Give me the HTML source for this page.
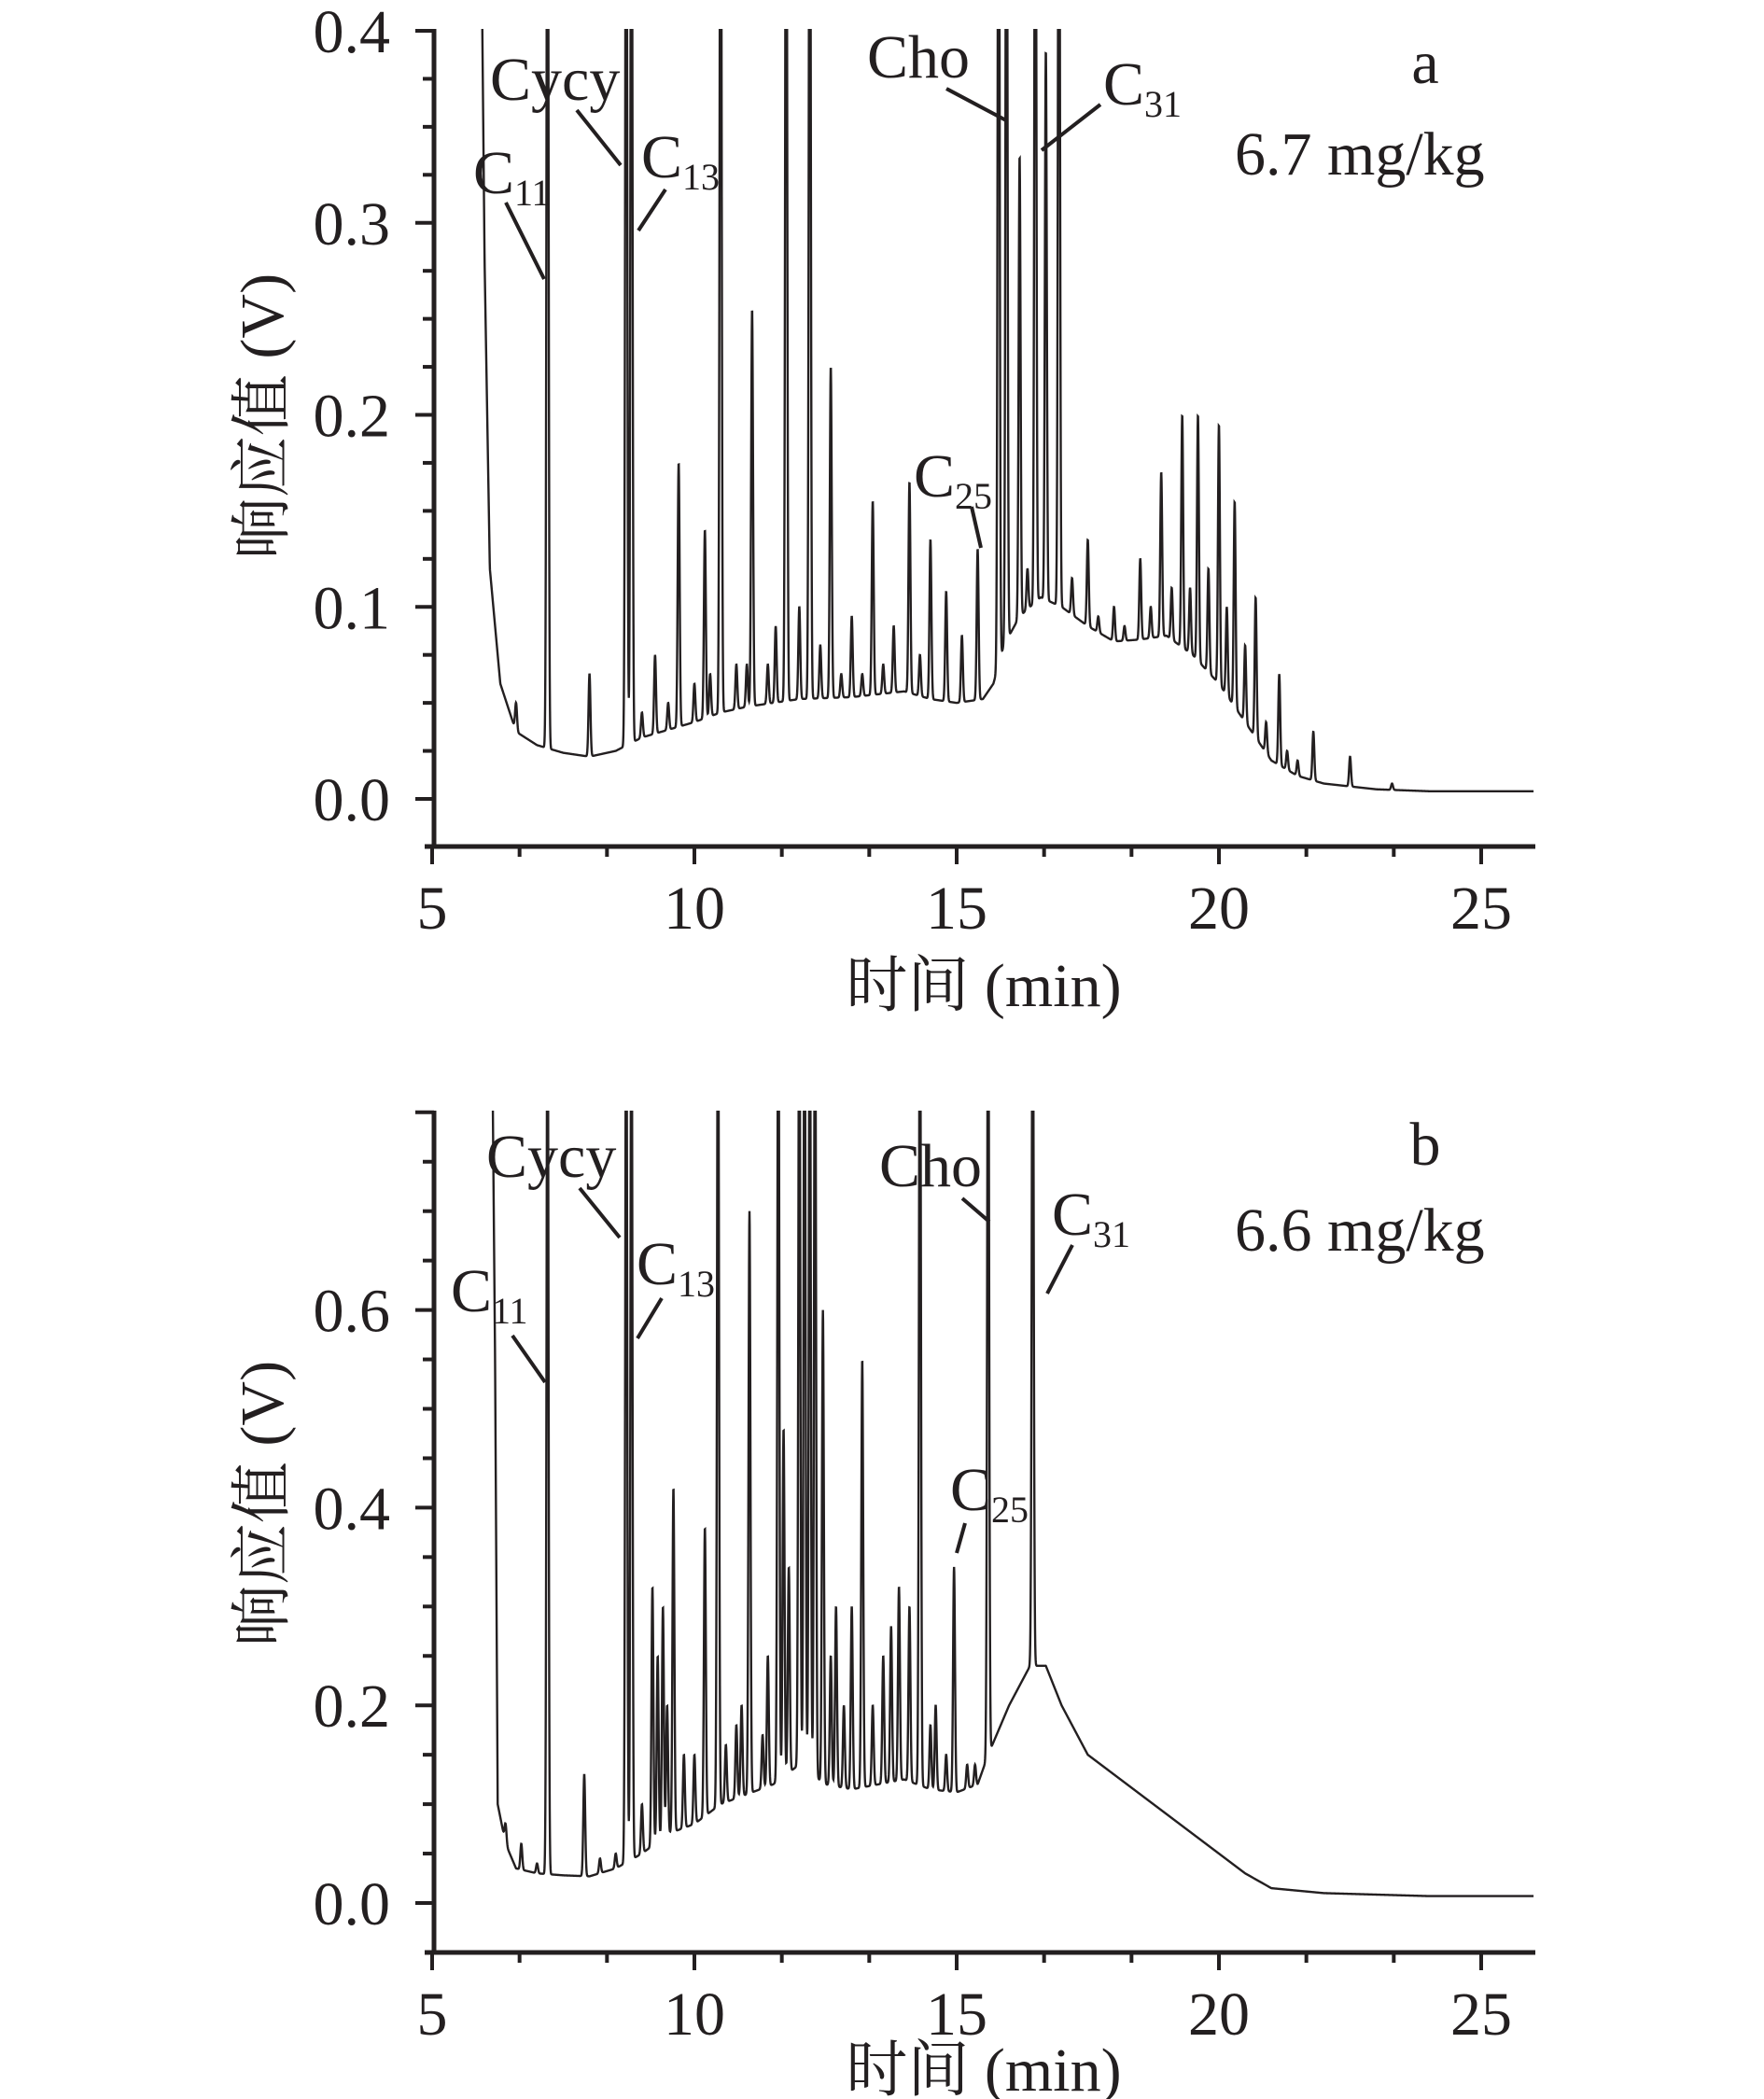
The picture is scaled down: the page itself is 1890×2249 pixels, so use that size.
<!DOCTYPE html>
<html><head><meta charset="utf-8">
<style>
html,body{margin:0;padding:0;background:#fff;}
svg{display:block;}
text{font-family:"Liberation Serif","Noto Serif CJK SC",serif;fill:#231f20;}
</style></head>
<body>
<svg id="chart" width="1890" height="2249" viewBox="0 0 1890 2249" xmlns="http://www.w3.org/2000/svg">
<defs>
<clipPath id="clipA"><rect x="465" y="31" width="1180" height="874"/></clipPath>
<clipPath id="clipB"><rect x="465" y="1190" width="1180" height="900"/></clipPath>
</defs>
<g id="panelA"></g>
<g id="panelB"></g>
</svg>
<script>
// ---- data: panel a ----
const baseTA=[5.95,6.0,6.1,6.3,6.6,7.0,7.5,8.0,8.5,9.0,9.5,10.0,10.5,11,12,13,14,14.5,15,15.5,15.7,15.9,16.2,16.6,17,17.5,18,18.5,19,19.5,20,20.5,21,21.5,22,23,24,26];
const baseVA=[0.42,0.28,0.12,0.06,0.035,0.028,0.024,0.022,0.025,0.032,0.036,0.04,0.045,0.048,0.052,0.053,0.056,0.052,0.05,0.052,0.06,0.08,0.095,0.105,0.1,0.09,0.082,0.083,0.085,0.075,0.06,0.04,0.02,0.012,0.008,0.005,0.004,0.004];
const peakTA=[6.6,7.2,8.0,8.7,8.8,9.25,9.7,10.2,10.5,10.8,11.1,11.55,11.75,12.0,12.2,12.6,13.0,13.4,13.8,14.1,14.5,14.8,15.1,15.4,15.8,15.95,16.2,16.5,16.7,16.95,17.5,18.0,18.5,18.9,19.3,19.6,20.0,20.3,20.7,21.15,21.5,21.8,22.5,23.3,
  9.0,9.5,10.0,10.3,11.0,11.4,12.4,12.8,13.2,13.6,14.3,16.35,17.2,17.7,18.2,18.7,19.1,19.45,19.8,20.15,20.5,20.9,21.3];
const peakHA=[0.05,0.6,0.065,0.6,0.6,0.075,0.175,0.14,0.6,0.07,0.255,0.09,0.6,0.1,0.6,0.225,0.095,0.155,0.09,0.165,0.135,0.108,0.085,0.13,0.6,0.6,0.335,0.6,0.39,0.6,0.135,0.1,0.125,0.17,0.2,0.2,0.195,0.155,0.105,0.065,0.02,0.035,0.022,0.008,
  0.045,0.05,0.06,0.065,0.07,0.07,0.08,0.065,0.065,0.07,0.075,0.12,0.115,0.095,0.09,0.1,0.11,0.11,0.12,0.1,0.08,0.04,0.025];
// ---- data: panel b ----
const baseTB=[6.15,6.2,6.25,6.4,6.6,7.0,7.5,8.0,8.5,9.0,9.5,10.0,10.5,11,11.5,12,12.5,13,13.5,14,14.5,15,15.4,15.6,16.0,16.4,16.7,17,17.5,18,19,20,20.5,21,22,24,26];
const baseVB=[0.85,0.55,0.1,0.06,0.035,0.03,0.028,0.027,0.035,0.05,0.07,0.08,0.1,0.11,0.12,0.14,0.12,0.115,0.12,0.125,0.115,0.112,0.12,0.15,0.2,0.24,0.24,0.2,0.15,0.13,0.09,0.05,0.03,0.015,0.01,0.007,0.007];
const peakTB=[7.2,7.9,8.7,8.8,9.2,9.4,9.6,10.2,10.45,10.6,11.05,11.3,11.6,11.7,12.0,12.1,12.2,12.3,12.45,12.7,13.0,13.2,13.6,13.9,14.1,14.3,14.6,14.95,15.6,16.45,
  6.4,6.7,7.0,8.2,8.5,9.0,9.3,9.48,9.8,10.0,10.8,10.9,11.4,11.8,12.6,12.85,13.4,13.75,14.5,14.8,15.2,15.35];
const peakHB=[1.0,0.13,1.0,1.0,0.32,0.3,0.42,0.38,1.0,0.16,0.7,0.17,1.0,0.48,1.0,1.0,1.0,1.0,0.6,0.3,0.3,0.55,0.25,0.32,0.3,1.0,0.2,0.34,1.0,1.0,
  0.08,0.06,0.04,0.045,0.05,0.1,0.25,0.2,0.15,0.15,0.18,0.2,0.25,0.34,0.25,0.2,0.2,0.28,0.18,0.15,0.14,0.14];
// ---- tick labels ----
const xTicks=[5,10,15,20,25];
const yTicksA=[0.0,0.1,0.2,0.3,0.4];
const yTicksB=[0.0,0.2,0.4,0.6];

const NS='http://www.w3.org/2000/svg';
function mk(tag,attrs,parent,txt){const e=document.createElementNS(NS,tag);for(const k in attrs)e.setAttribute(k,attrs[k]);if(txt!==undefined)e.textContent=txt;parent.appendChild(e);return e;}
function interp(ts,vs,t){if(t<=ts[0])return vs[0];for(let i=1;i<ts.length;i++){if(t<=ts[i]){const f=(t-ts[i-1])/(ts[i]-ts[i-1]);return vs[i-1]+f*(vs[i]-vs[i-1]);}}return vs[vs.length-1];}

function panel(g,cfg){
  const X=t=>463+(t-5)*56.2;
  const Y=v=>cfg.y0+(-v)*cfg.pxPer;
  const ax=mk('line',{x1:455,y1:cfg.bottom,x2:1645,y2:cfg.bottom,stroke:'#231f20','stroke-width':5},g);
  
  const ay=mk('line',{x1:465,y1:cfg.top,x2:465,y2:cfg.bottom+2,stroke:'#231f20','stroke-width':5},g);
  
  for(let k=0;k<=12;k++){const t=5+k*5/3;if(t>26)break;const major=(k%3===0);
    const tk=mk('line',{x1:X(t),y1:cfg.bottom,x2:X(t),y2:cfg.bottom+(major?19:11),stroke:'#231f20','stroke-width':4},g);
    }
  xTicks.forEach(t=>{const tl=mk('text',{x:X(t),y:cfg.bottom+88,'font-size':66,'text-anchor':'middle'},g,String(t));
    });
  for(let v=cfg.ymin;v<=cfg.ymax+1e-9;v+=cfg.minor){const major=Math.abs(Math.round(v/cfg.major)*cfg.major-v)<1e-6;
    const tk=mk('line',{x1:465,y1:Y(v),x2:465-(major?20:12),y2:Y(v),stroke:'#231f20','stroke-width':4},g);
    }
  cfg.yTicks.forEach(v=>{const tl=mk('text',{x:418,y:Y(v)+23,'font-size':66,'text-anchor':'end'},g,v.toFixed(1));
    });
  const xt=mk('text',{x:1054,y:cfg.xTitleY,'font-size':66,'text-anchor':'middle'},g,'时间 (min)');
  
  const yt=mk('text',{x:0,y:0,'font-size':66,'text-anchor':'middle',transform:`translate(303,${cfg.yTitleC}) rotate(-90)`},g,'响应值 (V)');
  
  let d='';const t0=cfg.bt[0];
  for(let t=t0;t<=26.0001;t+=0.004){
    let v=interp(cfg.bt,cfg.bv,t);
    for(let i=0;i<cfg.pt.length;i++){const dt=(t-cfg.pt[i])/0.018;if(Math.abs(dt)<5){const base=interp(cfg.bt,cfg.bv,cfg.pt[i]);v+=(cfg.ph[i]-base)*Math.exp(-0.5*dt*dt);}}
    d+=(d?'L':'M')+X(t).toFixed(2)+' '+Y(v).toFixed(2);
  }
  const tr=mk('path',{d:d,fill:'none',stroke:'#231f20','stroke-width':2.4,'clip-path':`url(#${cfg.clip})`},g);
  
  cfg.labels.forEach(L=>{
    const lg=mk('g',{},g);
    
    const tx=mk('text',{x:L.x,y:L.y,'font-size':66},lg);
    mk('tspan',{},tx,L.main);
    if(L.sub){mk('tspan',{'font-size':40,dy:13},tx,L.sub);}
    if(L.line){mk('line',{x1:L.line[0],y1:L.line[1],x2:L.line[2],y2:L.line[3],stroke:'#231f20','stroke-width':4},lg);}
  });
  const pl=mk('text',{x:1527,y:cfg.letterY,'font-size':66,'text-anchor':'middle'},g,cfg.letter);
  
  const cl=mk('text',{x:1323,y:cfg.concY,'font-size':66},g,cfg.conc);
  
}

panel(document.getElementById('panelA'),{y0:856,pxPer:2057.5,top:31,bottom:907,ymin:0,ymax:0.4,minor:0.025,major:0.1,yTicks:yTicksA,
  xTitleY:1078,yTitleC:446,bt:baseTA,bv:baseVA,pt:peakTA,ph:peakHA,clip:'clipA',letter:'a',letterY:89,conc:'6.7 mg/kg',concY:187,
  labels:[
   {name:'cycy',x:525,y:107,main:'Cycy',line:[618,118,665,177]},
   {name:'c11',x:507,y:207,main:'C',sub:'11',line:[542,217,583,299]},
   {name:'c13',x:687,y:190,main:'C',sub:'13',line:[713,203,684,247]},
   {name:'cho',x:929,y:83,main:'Cho',line:[1014,95,1078,129]},
   {name:'c31',x:1182,y:112,main:'C',sub:'31',line:[1179,112,1116,161]},
   {name:'c25',x:979,y:532,main:'C',sub:'25',line:[1041,543,1051,587]}]});
panel(document.getElementById('panelB'),{y0:2039,pxPer:1059,top:1190,bottom:2092,ymin:0,ymax:0.8,minor:0.05,major:0.2,yTicks:yTicksB,
  xTitleY:2240,yTitleC:1611,bt:baseTB,bv:baseVB,pt:peakTB,ph:peakHB,clip:'clipB',letter:'b',letterY:1248,conc:'6.6 mg/kg',concY:1340,
  labels:[
   {name:'cycy',x:521,y:1261,main:'Cycy',line:[621,1273,664,1326]},
   {name:'c11',x:483,y:1405,main:'C',sub:'11',line:[549,1431,584,1481]},
   {name:'c13',x:682,y:1376,main:'C',sub:'13',line:[709,1391,683,1434]},
   {name:'cho',x:942,y:1271,main:'Cho',line:[1031,1284,1060,1309]},
   {name:'c31',x:1127,y:1323,main:'C',sub:'31',line:[1149,1334,1122,1386]},
   {name:'c25',x:1018,y:1618,main:'C',sub:'25',line:[1034,1632,1025,1664]}]});
</script>
</body></html>
